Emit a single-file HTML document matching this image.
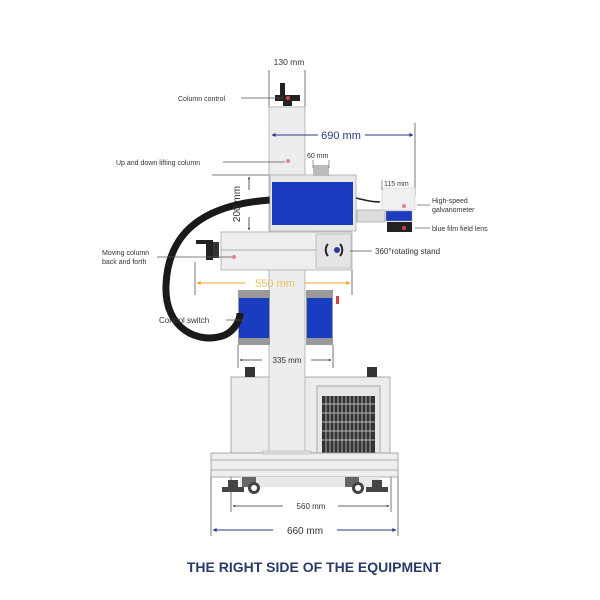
<!DOCTYPE html>
<html><head><style>body{margin:0;background:#fff}svg{display:block}text{font-family:"Liberation Sans",sans-serif}</style></head><body>
<svg width="600" height="600" viewBox="0 0 600 600" xmlns="http://www.w3.org/2000/svg">
<defs>
<marker id="an" viewBox="0 0 10 10" refX="9" refY="5" markerWidth="5" markerHeight="4" orient="auto-start-reverse"><path d="M0,0L10,5L0,10z" fill="#2a3a80"/></marker>
<marker id="ao" viewBox="0 0 10 10" refX="9" refY="5" markerWidth="5" markerHeight="4" orient="auto-start-reverse"><path d="M0,0L10,5L0,10z" fill="#f0a030"/></marker>
<marker id="ak" viewBox="0 0 10 10" refX="9" refY="5" markerWidth="4" markerHeight="3" orient="auto-start-reverse"><path d="M0,0L10,5L0,10z" fill="#333"/></marker>
</defs>
<g stroke="#555" stroke-width="0.8" fill="none">
<!-- 130mm -->
<line x1="269" y1="70" x2="269" y2="107"/><line x1="305" y1="70" x2="305" y2="107"/>
<!-- 690 right -->
<line x1="415" y1="123" x2="415" y2="196"/>
<line x1="212" y1="175" x2="270" y2="175"/>
<line x1="231" y1="475" x2="231" y2="512"/><line x1="391" y1="475" x2="391" y2="512"/>
<line x1="211" y1="470" x2="211" y2="536"/><line x1="398" y1="470" x2="398" y2="536"/>
<line x1="238" y1="345" x2="238" y2="368"/><line x1="333" y1="345" x2="333" y2="368"/>
<line x1="195" y1="262" x2="195" y2="295"/><line x1="352" y1="270" x2="352" y2="295"/>
</g>
<!-- cabinet -->
<rect x="231" y="377" width="159" height="76" fill="#ececee" stroke="#999" stroke-width="0.8"/>
<rect x="317" y="386" width="63" height="67" fill="#e6e6e8" stroke="#999" stroke-width="0.8"/>
<rect x="322" y="396" width="53" height="57" fill="#333"/>
<g stroke="#ddd" stroke-width="0.7">
<line x1="322" y1="404" x2="375" y2="404"/><line x1="322" y1="413" x2="375" y2="413"/><line x1="322" y1="422" x2="375" y2="422"/><line x1="322" y1="431" x2="375" y2="431"/><line x1="322" y1="440" x2="375" y2="440"/>
<line x1="326" y1="396" x2="326" y2="453"/><line x1="330" y1="396" x2="330" y2="453"/><line x1="334" y1="396" x2="334" y2="453"/><line x1="338" y1="396" x2="338" y2="453"/><line x1="342" y1="396" x2="342" y2="453"/><line x1="346" y1="396" x2="346" y2="453"/><line x1="350" y1="396" x2="350" y2="453"/><line x1="354" y1="396" x2="354" y2="453"/><line x1="358" y1="396" x2="358" y2="453"/><line x1="362" y1="396" x2="362" y2="453"/><line x1="366" y1="396" x2="366" y2="453"/><line x1="370" y1="396" x2="370" y2="453"/>
</g>
<rect x="245" y="367" width="10" height="10" fill="#333"/><rect x="367" y="367" width="10" height="10" fill="#333"/>
<!-- base -->
<rect x="211" y="453" width="187" height="24" fill="#eeeef0" stroke="#999" stroke-width="0.8"/>
<line x1="211" y1="460" x2="398" y2="460" stroke="#999" stroke-width="0.8"/>
<line x1="211" y1="470" x2="398" y2="470" stroke="#999" stroke-width="0.8"/>
<rect x="240" y="477" width="140" height="10" fill="#e8e8ea"/>
<!-- wheels -->
<g fill="#444"><path d="M228,480h10v7h6v5h-22v-5h6z"/><path d="M372,480h10v7h6v5h-22v-5h6z"/>
<path d="M242,477h14v10h-14z" fill="#666"/><circle cx="254" cy="488" r="6"/><circle cx="254" cy="488" r="3" fill="#fff"/>
<path d="M345,477h14v10h-14z" fill="#666"/><circle cx="358" cy="488" r="6"/><circle cx="358" cy="488" r="3" fill="#fff"/></g>
<!-- column -->
<rect x="269" y="107" width="36" height="346" fill="#ededef" stroke="#aaa" stroke-width="0.8"/>
<rect x="263" y="451" width="48" height="3" fill="#ddd" stroke="#aaa" stroke-width="0.5"/>
<path d="M275,95h25v6h-8v5h-9v-5h-8z" fill="#222"/><rect x="280" y="83" width="5" height="13" fill="#222"/><circle cx="288" cy="98" r="2" fill="#c44"/>
<!-- motors -->
<rect x="238" y="290" width="32" height="55" fill="#999"/><rect x="239" y="298" width="30" height="40" fill="#1a3cc0"/>
<rect x="306" y="290" width="27" height="55" fill="#999"/><rect x="307" y="298" width="25" height="40" fill="#1a3cc0"/>
<rect x="336" y="296" width="3" height="8" fill="#c44"/>
<!-- hose -->
<path d="M270,200 C200,205 168,235 166,285 C164,330 200,345 225,335 C235,330 240,320 240,313" stroke="#1a1a1a" stroke-width="7" fill="none"/>
<!-- arm -->
<rect x="221" y="232" width="131" height="38" fill="#eeeef0" stroke="#aaa" stroke-width="0.8"/>
<line x1="221" y1="250" x2="316" y2="250" stroke="#999" stroke-width="0.8"/>
<rect x="316" y="234" width="35" height="34" fill="#e4e4e6" stroke="#aaa" stroke-width="0.6"/>
<path d="M328,244a9,9 0 0 0 0,12M340,244a9,9 0 0 1 0,12" stroke="#222" stroke-width="2" fill="none"/>
<circle cx="337" cy="250" r="3" fill="#2a3a9a"/>
<rect x="206" y="240" width="7" height="20" fill="#222"/><path d="M213,242h6v16h-6z" fill="#333"/><rect x="196" y="240" width="12" height="4" fill="#222"/>
<circle cx="234" cy="257" r="2" fill="#d88"/>
<!-- head -->
<rect x="270" y="175" width="86" height="56" fill="#e8e8ea" stroke="#aaa" stroke-width="0.8"/>
<rect x="272" y="182" width="81" height="43" fill="#1a3cc0"/>
<rect x="313" y="165" width="16" height="11" fill="#bbb"/>
<path d="M356,198 C365,200 370,202 380,202" stroke="#222" stroke-width="1.5" fill="none"/>
<rect x="357" y="210" width="28" height="12" fill="#ddd" stroke="#999" stroke-width="0.6"/>
<rect x="382" y="188" width="33" height="22" fill="#f0f0f2" stroke="#ccc" stroke-width="0.6"/>
<circle cx="404" cy="206" r="2" fill="#d88"/>
<rect x="386" y="211" width="26" height="10" fill="#1a3cc0" stroke="#999" stroke-width="0.5"/>
<rect x="387" y="222" width="25" height="10" fill="#222"/><circle cx="404" cy="228" r="2" fill="#c44"/>
<circle cx="288" cy="161" r="2" fill="#d88"/>
<!-- dims -->
<line x1="272" y1="135" x2="318" y2="135" stroke="#2a3a80" stroke-width="1" marker-start="url(#an)"/>
<line x1="365" y1="135" x2="413" y2="135" stroke="#2a3a80" stroke-width="1" marker-end="url(#an)"/>
<line x1="249" y1="177" x2="249" y2="190" stroke="#333" stroke-width="0.8" marker-start="url(#ak)"/>
<line x1="249" y1="217" x2="249" y2="230" stroke="#333" stroke-width="0.8" marker-end="url(#ak)"/>
<line x1="197" y1="283" x2="245" y2="283" stroke="#f0a030" stroke-width="1" marker-start="url(#ao)"/>
<line x1="305" y1="283" x2="350" y2="283" stroke="#f0a030" stroke-width="1" marker-end="url(#ao)"/>
<line x1="240" y1="360" x2="262" y2="360" stroke="#333" stroke-width="0.8" marker-start="url(#ak)"/>
<line x1="311" y1="360" x2="331" y2="360" stroke="#333" stroke-width="0.8" marker-end="url(#ak)"/>
<line x1="233" y1="506" x2="283" y2="506" stroke="#333" stroke-width="0.8" marker-start="url(#ak)"/>
<line x1="338" y1="506" x2="389" y2="506" stroke="#333" stroke-width="0.8" marker-end="url(#ak)"/>
<line x1="213" y1="530" x2="273" y2="530" stroke="#2a3a80" stroke-width="1" marker-start="url(#an)"/>
<line x1="337" y1="530" x2="396" y2="530" stroke="#2a3a80" stroke-width="1" marker-end="url(#an)"/>
<line x1="313" y1="160" x2="313" y2="168" stroke="#555" stroke-width="0.6"/><line x1="329" y1="160" x2="329" y2="168" stroke="#555" stroke-width="0.6"/>
<line x1="382" y1="180" x2="382" y2="190" stroke="#555" stroke-width="0.6"/>
<!-- leader lines -->
<g stroke="#555" stroke-width="0.7">
<line x1="241" y1="98" x2="283" y2="98"/><line x1="223" y1="162" x2="285" y2="162"/>
<line x1="157" y1="257" x2="232" y2="257"/><line x1="226" y1="320" x2="245" y2="320"/>
<line x1="417" y1="205" x2="430" y2="205"/><line x1="415" y1="228" x2="430" y2="228"/>
<line x1="350" y1="251" x2="372" y2="251"/>
</g>
<!-- text -->
<g fill="#333" font-size="7">
<text x="178" y="101">Column control</text>
<text x="116" y="165">Up and down lifting column</text>
<text x="102" y="255">Moving column</text><text x="102" y="264">back and forth</text>
<text x="159" y="323" font-size="8">Control switch</text>
<text x="432" y="203">High-speed</text><text x="432" y="212">galvanometer</text>
<text x="432" y="231">blue film field lens</text>
<text x="375" y="254" font-size="8">360°rotating stand</text>
<text x="307" y="158">60 mm</text>
<text x="384" y="186">115 mm</text>
</g>
<g fill="#333" font-size="8.5" text-anchor="middle">
<text x="289" y="65">130 mm</text>
<text x="341" y="139" fill="#2a3a80" font-size="11">690 mm</text>
<text transform="translate(240,204) rotate(-90)" font-size="10">200 mm</text>
<text x="275" y="287" fill="#e8c060" font-size="11">550 mm</text>
<text x="287" y="363" font-size="8">335 mm</text>
<text x="311" y="509" font-size="8">560 mm</text>
<text x="305" y="534" font-size="10">660 mm</text>
</g>
<text x="314" y="572" text-anchor="middle" font-size="14" font-weight="bold" fill="#2a3a6a">THE RIGHT SIDE OF THE EQUIPMENT</text>
</svg>
</body></html>
